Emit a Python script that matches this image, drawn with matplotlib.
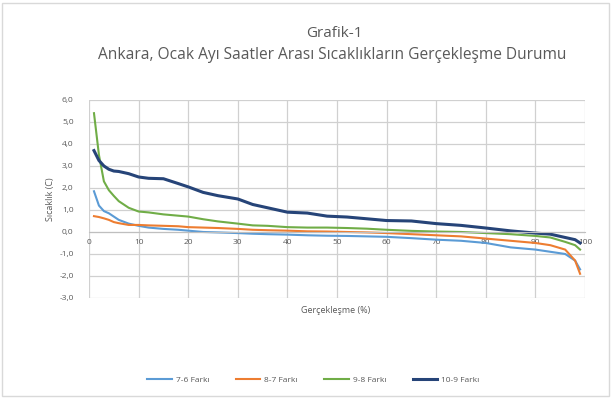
import matplotlib
matplotlib.use("Agg")
import matplotlib.pyplot as plt
from matplotlib.ticker import FuncFormatter, MultipleLocator
from matplotlib.patches import Rectangle

plt.rcParams['font.family'] = ['Open Sans', 'DejaVu Sans']

# Gerçekleşme (%) noktaları
yuzde = [1, 2, 3, 4, 5, 6, 8, 10, 12, 15, 18, 20, 23, 26, 30, 33, 36, 40, 44,
         48, 52, 56, 60, 65, 70, 75, 80, 85, 90, 93, 96, 98, 99]

fark_7_6 = [1.85, 1.2, 0.95, 0.85, 0.7, 0.55, 0.38, 0.28, 0.2, 0.14, 0.1, 0.06, 0.0,
            -0.02, -0.05, -0.08, -0.1, -0.12, -0.15, -0.17, -0.18, -0.2, -0.22,
            -0.28, -0.35, -0.4, -0.5, -0.7, -0.8, -0.9, -1.0, -1.3, -1.7]
fark_8_7 = [0.72, 0.68, 0.62, 0.55, 0.45, 0.4, 0.32, 0.32, 0.3, 0.28, 0.26, 0.22, 0.2,
            0.18, 0.14, 0.1, 0.08, 0.06, 0.03, 0.02, 0.0, -0.02, -0.05,
            -0.1, -0.15, -0.2, -0.3, -0.4, -0.5, -0.6, -0.8, -1.3, -1.9]
fark_9_8 = [5.4, 3.5, 2.3, 1.9, 1.64, 1.4, 1.1, 0.93, 0.89, 0.8, 0.74, 0.7, 0.58,
            0.48, 0.38, 0.3, 0.28, 0.22, 0.2, 0.2, 0.18, 0.15, 0.1,
            0.05, 0.02, 0.0, -0.05, -0.1, -0.18, -0.25, -0.45, -0.6, -0.8]
fark_10_9 = [3.7, 3.25, 3.0, 2.85, 2.77, 2.75, 2.65, 2.5, 2.44, 2.42, 2.2, 2.05, 1.8,
             1.65, 1.5, 1.25, 1.1, 0.9, 0.86, 0.72, 0.68, 0.6, 0.52,
             0.5, 0.38, 0.3, 0.18, 0.05, -0.05, -0.1, -0.25, -0.35, -0.5]

seriler = [("7-6 Farkı", fark_7_6, "#5B9BD5", 1.5),
           ("8-7 Farkı", fark_8_7, "#ED7D31", 1.5),
           ("9-8 Farkı", fark_9_8, "#70AD47", 1.5),
           ("10-9 Farkı", fark_10_9, "#264478", 2.2)]

yazi = "#595959"
izgara = "#D0D0D0"

fig = plt.figure(figsize=(6.11, 3.98), dpi=100)
fig.patches.append(Rectangle((0.003, 0.005), 0.994, 0.988, transform=fig.transFigure,
                             fill=False, edgecolor="#D9D9D9", linewidth=1.0))
ax = fig.add_axes([0.1457, 0.2513, 0.8118, 0.4975])

for ad, veri, renk, kalinlik in seriler:
    ax.plot(yuzde, veri, color=renk, linewidth=kalinlik, label=ad)

ax.set_xlim(0, 100)
ax.set_ylim(-3, 6)
ax.xaxis.set_major_locator(MultipleLocator(10))
ax.yaxis.set_major_locator(MultipleLocator(1))
ax.yaxis.set_major_formatter(FuncFormatter(lambda v, p: ("%.1f" % v).replace(".", ",")))
ax.grid(True, color=izgara, linewidth=0.9)
ax.set_axisbelow(True)

for s in ["top", "right", "left"]:
    ax.spines[s].set_visible(False)
ax.spines["bottom"].set_position(("data", 0))
ax.spines["bottom"].set_color("#BFBFBF")
ax.tick_params(length=0, labelsize=6, labelcolor=yazi)
ax.tick_params(axis="x", pad=5)
ax.tick_params(axis="y", pad=11)

ax.set_ylabel("Sıcaklık (C)", fontsize=6.5, color=yazi, labelpad=3)
fig.text(0.55, 0.221, "Gerçekleşme (%)", ha="center", va="center", fontsize=6.5, color=yazi)

fig.text(0.547, 0.917, "Grafik-1", ha="center", va="center", fontsize=11, color=yazi)
fig.text(0.543, 0.862, "Ankara, Ocak Ayı Saatler Arası Sıcaklıkların Gerçekleşme Durumu",
         ha="center", va="center", fontsize=11.2, color=yazi)

fig.legend(loc="center", bbox_to_anchor=(0.513, 0.045), ncol=4, frameon=False,
           fontsize=6, labelcolor=yazi, handlelength=2.9, handletextpad=0.5,
           columnspacing=3.2)

fig.savefig("out.png", dpi=100)
